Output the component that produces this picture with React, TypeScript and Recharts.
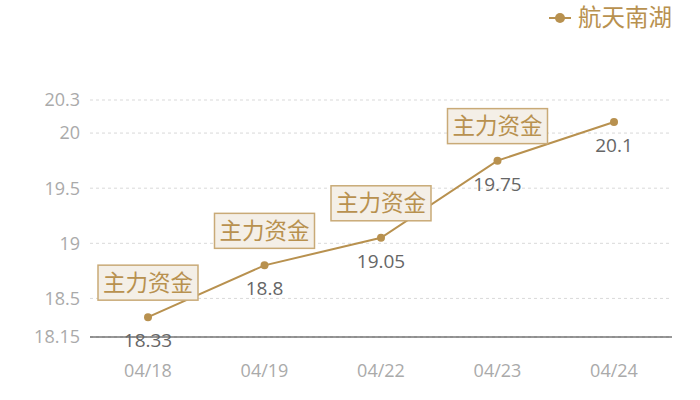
import { CartesianGrid, LabelList, Line, LineChart, XAxis, YAxis } from "recharts";

const dates = ["04/18", "04/19", "04/22", "04/23", "04/24"];
const prices = [18.33, 18.8, 19.05, 19.75, 20.1];
const tags = ["主力资金", "主力资金", "主力资金", "主力资金", ""];
const yTicks = [18.15, 18.5, 19, 19.5, 20, 20.3];

const GOLD = "#b8914f";
const CJK = "'Noto Sans CJK SC', sans-serif";
const NUM = "'Open Sans', 'Noto Sans', sans-serif";

const data = dates.map((d, i) => ({ date: d, price: prices[i], tag: tags[i] }));

function ValueLabel(props: any) {
  const { x, y, value } = props;
  return (
    <text x={x} y={y + 30} textAnchor="middle" fontSize={19} fill="#666" fontFamily={NUM}>
      {value}
    </text>
  );
}

function TagLabel(props: any) {
  const { x, y, value } = props;
  if (!value) return null;
  const w = 100;
  const h = 35;
  return (
    <g>
      <rect x={x - w / 2} y={y - 17 - h} width={w} height={h} fill="#f4efe7" stroke="#c9aa77" strokeWidth={1.5} />
      <text x={x} y={y - 17 - h / 2 + 8} textAnchor="middle" fontSize={22.5} fill={GOLD} fontFamily={CJK}>
        {value}
      </text>
    </g>
  );
}

export default function App() {
  return (
    <div style={{ position: "absolute", left: 0, top: 0, width: 700, height: 400, background: "#fff" }}>
      <svg width={140} height={36} style={{ position: "absolute", left: 540, top: 0 }}>
        <line x1={9} y1={18} x2={31} y2={18} stroke={GOLD} strokeWidth={2} />
        <circle cx={20} cy={18} r={5} fill={GOLD} />
        <text x={38} y={26} fontSize={23.5} fill={GOLD} fontFamily={CJK}>
          航天南湖
        </text>
      </svg>
      <LineChart width={700} height={400} data={data} margin={{ top: 100, right: 28, left: 0, bottom: 33 }}>
        <CartesianGrid vertical={false} strokeDasharray="3 3" stroke="#d9d9d9" />
        <XAxis
          dataKey="date"
          padding={{ left: 58, right: 58 }}
          height={30}
          tickLine={false}
          axisLine={{ stroke: "#333" }}
          tick={{ fontSize: 18, fill: "#aaa", fontFamily: NUM }}
          tickMargin={21}
        />
        <YAxis
          width={90}
          domain={[18.15, 20.3]}
          ticks={yTicks}
          interval={0}
          axisLine={false}
          tickLine={false}
          tickMargin={4}
          tick={{ fontSize: 18, fill: "#aaa", fontFamily: NUM }}
        />
        <Line
          dataKey="price"
          name="航天南湖"
          stroke={GOLD}
          strokeWidth={2}
          dot={{ r: 4, fill: GOLD, stroke: "none" }}
          isAnimationActive={false}
        >
          <LabelList dataKey="price" content={ValueLabel} />
          <LabelList dataKey="tag" content={TagLabel} />
        </Line>
      </LineChart>
    </div>
  );
}
